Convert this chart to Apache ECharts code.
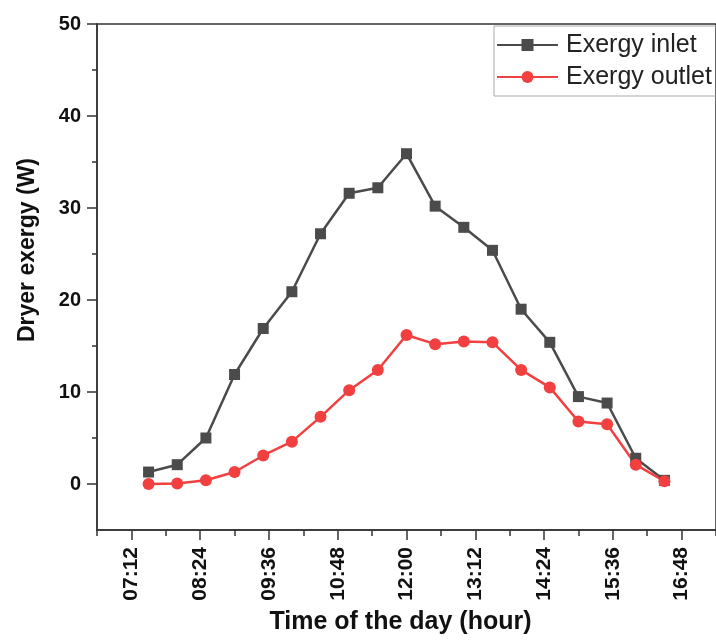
<!DOCTYPE html>
<html>
<head>
<meta charset="utf-8">
<script src="https://cdn.jsdelivr.net/npm/echarts@6/dist/echarts.min.js"></script>
<style>
  html, body { margin: 0; padding: 0; background: #fff; }
  #main { width: 716px; height: 642px; }
</style>
</head>
<body>
<div id="main"></div>
<script>
// measurement times (every 30 min)
var times = ['07:30', '08:00', '08:30', '09:00', '09:30', '10:00', '10:30', '11:00', '11:30', '12:00',
             '12:30', '13:00', '13:30', '14:00', '14:30', '15:00', '15:30', '16:00', '16:30'];
var inlet = [1.3, 2.1, 5.0, 11.9, 16.9, 20.9, 27.2, 31.6, 32.2, 35.9,
             30.2, 27.9, 25.4, 19.0, 15.4, 9.5, 8.8, 2.8, 0.4];
var outlet = [0.0, 0.05, 0.4, 1.3, 3.1, 4.6, 7.3, 10.2, 12.4, 16.2,
              15.2, 15.5, 15.4, 12.4, 10.5, 6.8, 6.5, 2.1, 0.3];

var xTickLabels = ['07:12', '08:24', '09:36', '10:48', '12:00', '13:12', '14:24', '15:36', '16:48'];
var xMinorTicks = ['06:36', '07:48', '09:00', '10:12', '11:24', '12:36', '13:48', '15:00', '16:12', '17:24'];
var yTicks = [0, 10, 20, 30, 40, 50];
var yMinorTicks = [5, 15, 25, 35, 45];

function toMin(s) {
  var p = s.split(':');
  return +p[0] * 60 + +p[1];
}
function fmt(v) {
  var h = Math.floor(v / 60), m = Math.round(v % 60);
  return (h < 10 ? '0' : '') + h + ':' + (m < 10 ? '0' : '') + m;
}

var xMin = toMin('06:36'), xMax = toMin('17:24');
var axisColor = '#333';
var font = 'Liberation Sans, Arial, sans-serif';

var chart = echarts.init(document.getElementById('main'));
chart.setOption({
  animation: false,
  grid: {
    left: 97, top: 24, width: 630, height: 506,
    show: true, borderColor: axisColor, borderWidth: 1.5
  },
  legend: {
    left: 494, top: 26,
    orient: 'vertical',
    padding: [6, 40, 6, 2],
    borderColor: '#aaa', borderWidth: 1,
    itemWidth: 61, itemHeight: 15, itemGap: 6,
    textStyle: { fontFamily: font, fontSize: 25, color: '#222', lineHeight: 26, padding: [0, 0, 0, 3] },
    data: ['Exergy inlet', 'Exergy outlet']
  },
  xAxis: [{
    type: 'value', min: xMin, max: xMax,
    name: 'Time of the day (hour)', nameLocation: 'middle', nameGap: 80,
    nameTextStyle: { fontFamily: font, fontSize: 25, fontWeight: 'bold', color: '#111', padding: [0, 12, 0, 0] },
    axisLine: { onZero: false, lineStyle: { color: axisColor, width: 1.5 } },
    axisTick: { customValues: xTickLabels.map(toMin), length: 10, lineStyle: { color: axisColor, width: 1.5 } },
    axisLabel: {
      customValues: xTickLabels.map(toMin), rotate: 90, margin: 17,
      fontFamily: font, fontSize: 21, fontWeight: 'bold', color: '#111',
      formatter: fmt
    },
    splitLine: { show: false }
  }, {
    type: 'value', min: xMin, max: xMax, position: 'bottom',
    axisLine: { show: false, onZero: false },
    axisTick: { customValues: xMinorTicks.map(toMin), length: 6, lineStyle: { color: axisColor, width: 1.5 } },
    axisLabel: { show: false },
    splitLine: { show: false }
  }],
  yAxis: [{
    type: 'value', min: -5, max: 50,
    name: 'Dryer exergy (W)', nameLocation: 'middle', nameGap: 58, nameRotate: 90,
    nameTextStyle: { fontFamily: font, fontSize: 23, fontWeight: 'bold', color: '#111', padding: [0, 0, 0, 54] },
    axisLine: { onZero: false, lineStyle: { color: axisColor, width: 1.5 } },
    axisTick: { customValues: yTicks, length: 10, lineStyle: { color: axisColor, width: 1.5 } },
    axisLabel: {
      customValues: yTicks, margin: 16,
      fontFamily: font, fontSize: 20, fontWeight: 'bold', color: '#111'
    },
    splitLine: { show: false }
  }, {
    type: 'value', min: -5, max: 50, position: 'left',
    axisLine: { show: false, onZero: false },
    axisTick: { customValues: yMinorTicks, length: 5, lineStyle: { color: axisColor, width: 1.5 } },
    axisLabel: { show: false },
    splitLine: { show: false }
  }],
  series: [{
    name: 'Exergy inlet', type: 'line',
    data: times.map(function (t, i) { return [toMin(t), inlet[i]]; }),
    symbol: 'rect', symbolSize: 11,
    lineStyle: { color: '#4b4b4b', width: 2.5 },
    itemStyle: { color: '#4b4b4b' }
  }, {
    name: 'Exergy outlet', type: 'line',
    data: times.map(function (t, i) { return [toMin(t), outlet[i]]; }),
    symbol: 'circle', symbolSize: 12,
    lineStyle: { color: '#f23f3f', width: 2.5 },
    itemStyle: { color: '#f23f3f' }
  }]
});
</script>
</body>
</html>
